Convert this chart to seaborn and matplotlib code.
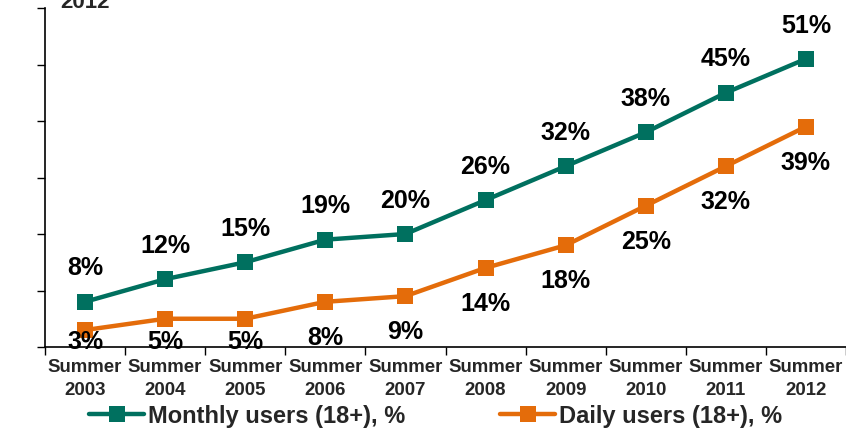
import matplotlib
matplotlib.use("Agg")
import matplotlib.pyplot as plt
import numpy as np
import pandas as pd
import seaborn as sns

# values
years = ["2003", "2004", "2005", "2006", "2007", "2008", "2009", "2010", "2011", "2012"]
monthly = [8, 12, 15, 19, 20, 26, 32, 38, 45, 51]
daily = [3, 5, 5, 8, 9, 14, 18, 25, 32, 39]
series_names = ["Monthly users (18+), %", "Daily users (18+), %"]

TEAL = "#00705F"
ORANGE = "#E46C0A"

sns.set_theme(style="white")
plt.rcParams["font.family"] = ["Liberation Sans", "DejaVu Sans"]
plt.rcParams["font.weight"] = "bold"

df = pd.DataFrame({
    "x": list(range(len(years))) * 2,
    "value": monthly + daily,
    "series": [series_names[0]] * len(years) + [series_names[1]] * len(years),
})

fig = plt.figure(figsize=(8.46, 4.32), dpi=100)
ax = fig.add_axes([45 / 846, 85 / 432, 1 - 45 / 846, (347 - 8) / 432])

sns.lineplot(
    data=df, x="x", y="value", hue="series", style="series",
    palette=[TEAL, ORANGE], markers=["s", "s"], dashes=False,
    linewidth=3.2, markersize=12, markeredgewidth=0, ax=ax, legend=True,
)

ax.set_xlim(-0.5, len(years) - 0.5)
ax.set_ylim(0, 60)
ax.set_xlabel("")
ax.set_ylabel("")

# y ticks without labels
ax.set_yticks(np.arange(0, 61, 10))
ax.set_yticklabels([])
ax.tick_params(axis="y", which="major", direction="out", length=6, width=1, color="black", left=True)

# x labels at category centres, tick marks at boundaries
ax.set_xticks(range(len(years)))
ax.set_xticklabels([f"Summer\n{y}" for y in years], fontsize=13.4, fontweight="bold", linespacing=1.45)
ax.set_xticks(np.arange(-0.5, len(years), 1), minor=True)
ax.tick_params(axis="x", which="major", length=0, pad=9)
ax.tick_params(axis="x", which="minor", direction="out", length=6, width=1, color="black", bottom=True)

for side in ["top", "right"]:
    ax.spines[side].set_visible(False)
for side in ["left", "bottom"]:
    ax.spines[side].set_color("black")
    ax.spines[side].set_linewidth(1.2)

# data labels
for i, v in enumerate(monthly):
    ax.text(i, v + 5.9, f"{v}%", ha="center", va="center", fontsize=18,
            fontweight="bold", color="black", clip_on=False)
for i, v in enumerate(daily):
    ax.text(i, max(v - 6.4, 0.8), f"{v}%", ha="center", va="center", fontsize=18,
            fontweight="bold", color="black", clip_on=False)

# legend at the bottom
handles, labels = ax.get_legend_handles_labels()
ax.get_legend().remove()
fig.legend(handles, labels, loc="center", bbox_to_anchor=(0.515, 0.037), ncol=2,
           frameon=False, prop={"size": 17, "weight": "bold"},
           handlelength=2.35, handletextpad=0.17, columnspacing=4.0, borderpad=0)

# cut-off title remnant at the very top
fig.text(60 / 846, 1 - 8 / 432, "2012", fontsize=16, fontweight="bold",
         va="baseline", ha="left")

fig.savefig("out.png", dpi=100)
